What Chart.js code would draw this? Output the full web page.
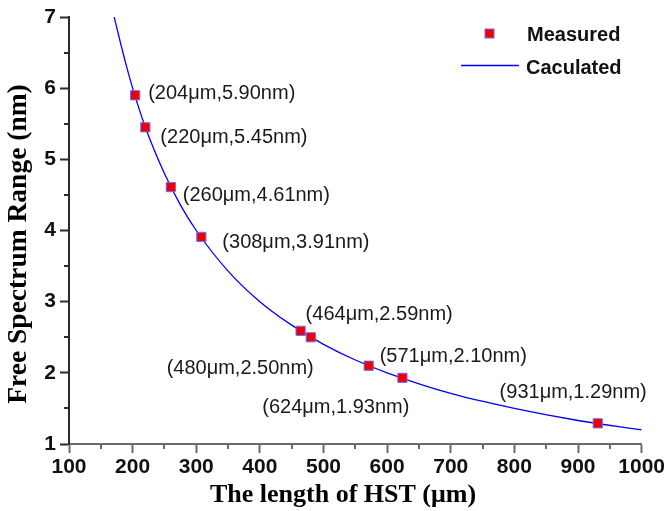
<!DOCTYPE html>
<html>
<head>
<meta charset="utf-8">
<title>FSR vs HST length</title>
<script src="https://cdn.jsdelivr.net/npm/chart.js@4.4.1/dist/chart.umd.min.js"></script>
<style>
    body { margin: 0; background: #fff; }
    #wrap { width: 667px; height: 511px; position: relative; }
</style>
</head>
<body>
<div id="wrap"><canvas id="fsrChart"></canvas></div>
<script>
// Measured free spectrum range for each HST length
const measuredLength = [204, 220, 260, 308, 464, 480, 571, 624, 931];
const measuredFsr = [5.90, 5.45, 4.61, 3.91, 2.59, 2.50, 2.10, 1.93, 1.29];

// Calculated curve, sampled along its length
const calcLength = [171, 180, 190, 200, 220, 250, 275, 300, 350, 400, 450, 500, 550, 600, 700, 800, 900, 1000];
const calcFsr = [7.00, 6.67, 6.32, 6.00, 5.45, 4.80, 4.36, 4.00, 3.43, 3.00, 2.67, 2.40, 2.18, 2.00, 1.71, 1.50, 1.33, 1.20];

// Axis ranges
const xRange = [100, 1000];
const yRange = [1, 7];

// Where each value label sits relative to its point
const labelPlace = [
    { align: "left", dx: 13, dy: -2 },
    { align: "left", dx: 15, dy: 10 },
    { align: "left", dx: 12, dy: 8 },
    { align: "left", dx: 21, dy: 6 },
    { align: "left", dx: 5, dy: -16 },
    { align: "right", dx: 3, dy: 31 },
    { align: "left", dx: 11, dy: -9 },
    { align: "right", dx: 7, dy: 30 },
    { align: "right", dx: 49, dy: -31 },
];

const sansFont = "'Liberation Sans', Arial, sans-serif";
const serifFont = "'Liberation Serif', 'Times New Roman', serif";
const xAxisColor = "#6a6a6a";
const yAxisColor = "#2a2a2a";

/**
 * Short ticks halfway between the labelled ones
 */
const minorTicks = {
    id: "minorTicks",
    afterDraw(chart) {
        const { ctx, chartArea, scales } = chart;
        ctx.save();
        ctx.lineWidth = 2;
        ctx.strokeStyle = xAxisColor;
        for (let v = xRange[0] + 50; v < xRange[1]; v += 100) {
            const px = Math.round(scales.x.getPixelForValue(v));
            ctx.beginPath();
            ctx.moveTo(px, chartArea.bottom);
            ctx.lineTo(px, chartArea.bottom + 5);
            ctx.stroke();
        }
        ctx.strokeStyle = yAxisColor;
        for (let v = yRange[0] + 0.5; v < yRange[1]; v += 1) {
            const py = Math.round(scales.y.getPixelForValue(v));
            ctx.beginPath();
            ctx.moveTo(chartArea.left, py);
            ctx.lineTo(chartArea.left - 5, py);
            ctx.stroke();
        }
        ctx.restore();
    },
};

/**
 * Value labels next to each measured point
 */
const pointLabels = {
    id: "pointLabels",
    afterDatasetsDraw(chart) {
        const { ctx, scales } = chart;
        ctx.save();
        ctx.font = "20px " + sansFont;
        ctx.fillStyle = "#1a1a1a";
        ctx.textBaseline = "middle";
        measuredLength.forEach((len, i) => {
            const fsr = measuredFsr[i];
            const place = labelPlace[i];
            const px = scales.x.getPixelForValue(len);
            const py = scales.y.getPixelForValue(fsr);
            ctx.textAlign = place.align;
            ctx.fillText("(" + len + "\u03bcm," + fsr.toFixed(2) + "nm)", px + place.dx, py + place.dy);
        });
        ctx.restore();
    },
};

/**
 * Axis titles and legend
 */
const titlesAndLegend = {
    id: "titlesAndLegend",
    afterDraw(chart) {
        const { ctx } = chart;
        const measured = chart.data.datasets[0];
        const calc = chart.data.datasets[1];
        ctx.save();

        // Axis titles
        ctx.fillStyle = "#000";
        ctx.textAlign = "center";
        ctx.textBaseline = "middle";
        ctx.font = "bold 26px " + serifFont;
        ctx.fillText("The length of HST (\u03bcm)", 343, 495);
        ctx.save();
        ctx.translate(19, 244);
        ctx.rotate(-Math.PI / 2);
        ctx.font = "bold 27.5px " + serifFont;
        ctx.fillText("Free Spectrum Range (nm)", 0, 0);
        ctx.restore();

        // Legend
        ctx.fillStyle = measured.backgroundColor;
        ctx.strokeStyle = measured.borderColor;
        ctx.lineWidth = 1;
        ctx.fillRect(485, 29, 9, 9);
        ctx.strokeRect(485, 29, 9, 9);
        ctx.strokeStyle = calc.borderColor;
        ctx.lineWidth = 1.5;
        ctx.beginPath();
        ctx.moveTo(461, 65.5);
        ctx.lineTo(519, 65.5);
        ctx.stroke();
        ctx.fillStyle = "#111";
        ctx.font = "bold 20px " + sansFont;
        ctx.textAlign = "left";
        ctx.fillText(measured.label, 527, 35);
        ctx.fillText(calc.label, 526, 68);
        ctx.restore();
    },
};

const measuredPoints = measuredLength.map((x, i) => ({ x, y: measuredFsr[i] }));
const calcPoints = calcLength.map((x, i) => ({ x, y: calcFsr[i] }));

const tickFont = { family: sansFont, size: 21, weight: "bold" };

new Chart(document.getElementById("fsrChart"), {
    type: "scatter",
    data: {
        datasets: [
            {
                label: "Measured",
                data: measuredPoints,
                pointStyle: "rect",
                pointRadius: 6.5,
                backgroundColor: "#ee0000",
                borderColor: "#6d6dff",
                borderWidth: 1,
                showLine: false,
            },
            {
                label: "Caculated",
                data: calcPoints,
                showLine: true,
                pointRadius: 0,
                borderColor: "#0000ff",
                borderWidth: 1.3,
                cubicInterpolationMode: "monotone",
            },
        ],
    },
    options: {
        responsive: true,
        maintainAspectRatio: false,
        animation: false,
        layout: { padding: { top: 17, right: 24, left: 0, bottom: 0 } },
        plugins: {
            legend: { display: false },
            tooltip: { enabled: false },
        },
        scales: {
            x: {
                type: "linear",
                min: xRange[0],
                max: xRange[1],
                afterFit: scale => {
                    scale.height = 67;
                },
                grid: { drawOnChartArea: false, tickLength: 9, tickWidth: 2, tickColor: xAxisColor },
                border: { color: xAxisColor, width: 2 },
                ticks: {
                    stepSize: 100,
                    padding: 2,
                    color: "#111",
                    font: tickFont,
                    maxRotation: 0,
                    callback: v => String(v),
                },
            },
            y: {
                type: "linear",
                min: yRange[0],
                max: yRange[1],
                afterFit: scale => {
                    scale.width = 69;
                },
                grid: { drawOnChartArea: false, tickLength: 9, tickWidth: 2, tickColor: yAxisColor },
                border: { color: yAxisColor, width: 2 },
                ticks: {
                    stepSize: 1,
                    padding: 4,
                    color: "#111",
                    font: tickFont,
                    callback: v => String(v),
                },
            },
        },
    },
    plugins: [minorTicks, pointLabels, titlesAndLegend],
});
</script>
</body>
</html>
